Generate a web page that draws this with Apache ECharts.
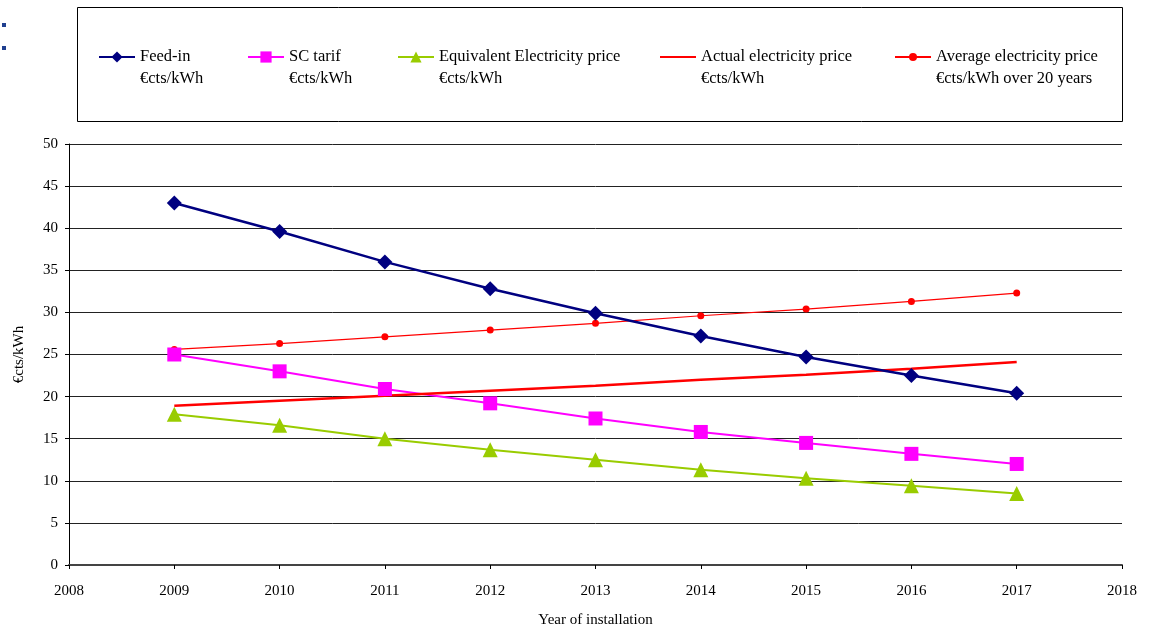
<!DOCTYPE html>
<html><head><meta charset="utf-8">
<script src="https://cdn.jsdelivr.net/npm/echarts@6/dist/echarts.min.js"></script>
<style>html,body{margin:0;padding:0;background:#fff}#c{width:1151px;height:628px}</style>
</head><body><div id="c"></div>
<script>
const years = [2009, 2010, 2011, 2012, 2013, 2014, 2015, 2016, 2017];
const feedIn = [43.0, 39.6, 36.0, 32.8, 29.9, 27.2, 24.7, 22.5, 20.4];
const scTarif = [25.0, 23.0, 20.9, 19.2, 17.4, 15.8, 14.5, 13.2, 12.0];
const equivalent = [17.9, 16.6, 15.0, 13.7, 12.5, 11.3, 10.3, 9.4, 8.5];
const actual = [18.9, 19.5, 20.1, 20.7, 21.3, 22.0, 22.6, 23.3, 24.1];
const average = [25.6, 26.3, 27.1, 27.9, 28.7, 29.6, 30.4, 31.3, 32.3];
const seriesNames = [
  'Feed-in\n€cts/kWh',
  'SC tarif\n€cts/kWh',
  'Equivalent Electricity price\n€cts/kWh',
  'Actual electricity price\n€cts/kWh',
  'Average electricity price\n€cts/kWh over 20 years'
];
const yTicks = {min: 0, max: 50, interval: 5};
const xTicks = {min: 2008, max: 2018, interval: 1};

const pairs = arr => years.map((y, i) => [y, arr[i]]);
const FONT = 'Liberation Serif';
const chart = echarts.init(document.getElementById('c'), null, {renderer: 'canvas'});

const legendLefts = [93, 242, 392, 654, 889];
const legendIconH = [14, 14, 14, 14, 10];
const legends = seriesNames.map((n, i) => {
  const l = {
    data: [n], left: legendLefts[i], top: 19, itemWidth: 36, itemHeight: legendIconH[i], itemGap: 0,
    selectedMode: false,
    formatter: name => '\n' + name,
    textStyle: {fontFamily: FONT, fontSize: 16.5, color: '#000', lineHeight: 22}
  };
  if (i === 3) l.itemStyle = {opacity: 0};
  return l;
});

chart.setOption({
  animation: false,
  backgroundColor: '#fff',
  textStyle: {fontFamily: FONT},
  legend: legends,
  graphic: [
    {type: 'rect', shape: {x: 77.5, y: 7.5, width: 1045, height: 114}, style: {fill: 'none', stroke: '#000', lineWidth: 1}},
    {type: 'rect', shape: {x: 2, y: 23, width: 4, height: 4}, style: {fill: '#1F3F8F'}},
    {type: 'rect', shape: {x: 2, y: 46, width: 4, height: 4}, style: {fill: '#1F3F8F'}}
  ],
  grid: {left: 69, right: 29, top: 144, bottom: 63, outerBoundsMode: 'none', containLabel: false},
  xAxis: {
    type: 'value', min: xTicks.min, max: xTicks.max, interval: xTicks.interval,
    name: 'Year of installation', nameLocation: 'middle', nameGap: 48,
    nameTextStyle: {fontFamily: FONT, fontSize: 15, color: '#000'},
    axisLine: {onZero: false, lineStyle: {color: '#444', width: 2}},
    axisTick: {show: true, length: 4, lineStyle: {color: '#000'}},
    axisLabel: {fontFamily: FONT, fontSize: 15, color: '#000', margin: 19, formatter: v => String(v)},
    splitLine: {show: false}
  },
  yAxis: {
    type: 'value', min: yTicks.min, max: yTicks.max, interval: yTicks.interval,
    name: '€cts/kWh', nameLocation: 'middle', nameGap: 42, nameRotate: 90,
    nameTextStyle: {fontFamily: FONT, fontSize: 15, color: '#000'},
    axisLine: {show: true, lineStyle: {color: '#000', width: 1}},
    axisTick: {show: true, length: 4, lineStyle: {color: '#000'}},
    axisLabel: {fontFamily: FONT, fontSize: 15, color: '#000', margin: 11},
    splitLine: {show: true, lineStyle: {color: '#222', width: 1}}
  },
  series: [
    {name: seriesNames[0], type: 'line', data: pairs(feedIn), symbol: 'diamond', symbolSize: 15,
     lineStyle: {color: '#000080', width: 2.5}, itemStyle: {color: '#000080'}, z: 5},
    {name: seriesNames[1], type: 'line', data: pairs(scTarif), symbol: 'rect', symbolSize: 14,
     lineStyle: {color: '#FF00FF', width: 2}, itemStyle: {color: '#FF00FF'}, z: 4},
    {name: seriesNames[2], type: 'line', data: pairs(equivalent), symbol: 'triangle', symbolSize: 15,
     lineStyle: {color: '#99CC00', width: 2}, itemStyle: {color: '#99CC00'}, z: 3},
    {name: seriesNames[3], type: 'line', data: pairs(actual), symbol: 'none', showSymbol: false,
     lineStyle: {color: '#FF0000', width: 2.5}, itemStyle: {color: '#FF0000'}, z: 4},
    {name: seriesNames[4], type: 'line', data: pairs(average), symbol: 'circle', symbolSize: 7,
     lineStyle: {color: '#FF0000', width: 1.2}, itemStyle: {color: '#FF0000'}, z: 3}
  ]
});
</script></body></html>
